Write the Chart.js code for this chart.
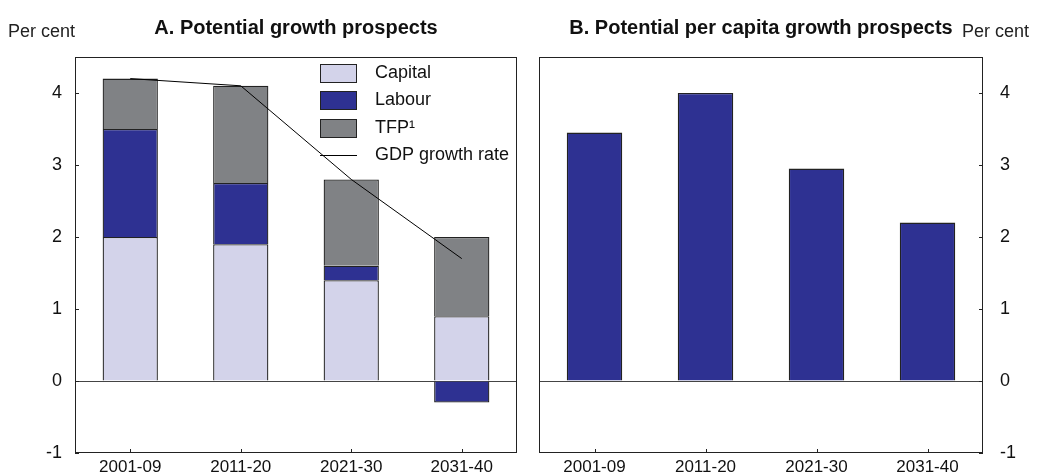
<!DOCTYPE html>
<html>
<head>
<meta charset="utf-8">
<script src="https://cdn.jsdelivr.net/npm/chart.js@4.4.0/dist/chart.umd.min.js"></script>
<style>
body { margin: 0; background: #fff; width: 1043px; height: 475px; overflow: hidden; position: relative; }
#chartA { position: absolute; left: 0; top: 0; }
#chartB { position: absolute; left: 528px; top: 0; }
</style>
</head>
<body>
<canvas id="chartA" width="528" height="475"></canvas>
<canvas id="chartB" width="515" height="475"></canvas>
<script>
// data
const periods = ['2001-09', '2011-20', '2021-30', '2031-40'];
const capital = [2.0, 1.9, 1.4, 0.9];
const labour = [1.5, 0.85, 0.2, -0.3];
const tfp = [0.7, 1.35, 1.2, 1.1];
const gdpGrowth = [4.2, 4.1, 2.8, 1.7];
const perCapita = [3.45, 4.0, 2.95, 2.2];
const yTicks = [-1, 0, 1, 2, 3, 4];
const yMin = -1, yMax = 4.5;

const FONT = "'Liberation Sans', Arial, sans-serif";
const colCapital = '#d3d3ea';
const colLabour = '#2e3192';
const colTfp = '#808285';
const edge = '#222222';

// frame round the plot area, inward ticks and the unit text
const framePlugin = {
    id: 'frame',
    afterDatasetsDraw(chart, args, opts) {
        const { ctx, chartArea: a, scales } = chart;
        ctx.save();
        ctx.strokeStyle = edge;
        ctx.lineWidth = 1;
        ctx.strokeRect(a.left + 0.5, a.top + 0.5, a.right - a.left - 1, a.bottom - a.top - 1);
        ctx.beginPath();
        yTicks.forEach(v => {
            const y = Math.round(scales.y.getPixelForValue(v)) + 0.5;
            if (opts.side == 'left') {
                ctx.moveTo(a.left, y); ctx.lineTo(a.left + 4, y);
            } else {
                ctx.moveTo(a.right, y); ctx.lineTo(a.right - 4, y);
            }
        });
        periods.forEach((p, i) => {
            const x = Math.round(scales.x.getPixelForValue(i)) + 0.5;
            ctx.moveTo(x, a.bottom); ctx.lineTo(x, a.bottom - 4);
        });
        ctx.stroke();
        ctx.fillStyle = '#222';
        ctx.font = '18px ' + FONT;
        ctx.textBaseline = 'middle';
        ctx.textAlign = 'left';
        ctx.fillText('Per cent', opts.unitX, 32);
        ctx.restore();
    }
};

// legend drawn inside panel A
const legendPlugin = {
    id: 'boxLegend',
    afterDatasetsDraw(chart, args, opts) {
        if (!opts.show) return;
        const { ctx, chartArea: a } = chart;
        const x0 = a.right - 197;
        ctx.save();
        ctx.font = '18px ' + FONT;
        ctx.textBaseline = 'middle';
        ctx.textAlign = 'left';
        const items = [chart.data.datasets[1], chart.data.datasets[2], chart.data.datasets[3], chart.data.datasets[0]];
        items.forEach((ds, i) => {
            const y = a.top + 16 + i * 27.3;
            ctx.strokeStyle = edge;
            ctx.lineWidth = 1;
            if (ds.type == 'line') {
                ctx.beginPath();
                ctx.moveTo(x0, Math.round(y) + 0.5);
                ctx.lineTo(x0 + 37, Math.round(y) + 0.5);
                ctx.strokeStyle = '#000';
                ctx.stroke();
            } else {
                ctx.fillStyle = ds.backgroundColor;
                ctx.fillRect(x0, Math.round(y - 9), 37, 19);
                ctx.strokeRect(x0 + 0.5, Math.round(y - 9) + 0.5, 36, 18);
            }
            ctx.fillStyle = '#111';
            ctx.fillText(ds.label, x0 + 55, y);
        });
        ctx.restore();
    }
};

const yScale = (pos, width, pad) => ({
    position: pos,
    min: yMin,
    max: yMax,
    stacked: true,
    afterBuildTicks: (s) => { s.ticks = yTicks.map(v => ({ value: v })); },
    afterFit: (s) => {
        s.width = width;
        // keep the label padding from pushing the plot area up
        s.paddingTop = 0;
        s.paddingBottom = 0;
    },
    ticks: { padding: pad, color: '#111', font: { family: FONT, size: 18 } },
    grid: {
        drawTicks: false,
        lineWidth: 1,
        color: (c) => (c.tick && c.tick.value === 0 ? '#444' : 'rgba(0,0,0,0)')
    },
    border: { display: false }
});

const xScale = (h) => ({
    stacked: true,
    afterFit: (s) => { s.height = h; },
    ticks: { padding: 4, maxRotation: 0, autoSkip: false, color: '#111', font: { family: FONT, size: 17 } },
    grid: { display: false, drawTicks: false },
    border: { display: false }
});

const titleOpts = (text) => ({
    display: true,
    text: text,
    fullSize: false,
    color: '#111',
    font: { family: FONT, size: 20, weight: 'bold' },
    padding: { top: 16, bottom: 17 }
});

let chartA = new Chart(document.getElementById('chartA').getContext('2d'), {
    type: 'bar',
    data: {
        labels: periods,
        datasets: [
            { type: 'line', label: 'GDP growth rate', data: gdpGrowth, borderColor: '#000', borderWidth: 1, pointRadius: 0, fill: false, order: 0, stack: 'gdp' },
            { label: 'Capital', data: capital, backgroundColor: colCapital, borderColor: edge, borderWidth: 1.3, order: 1, stack: 's' },
            { label: 'Labour', data: labour, backgroundColor: colLabour, borderColor: edge, borderWidth: 1.3, order: 1, stack: 's' },
            { label: 'TFP¹', data: tfp, backgroundColor: colTfp, borderColor: edge, borderWidth: 1.3, order: 1, stack: 's' }
        ]
    },
    options: {
        responsive: false,
        devicePixelRatio: 1,
        animation: false,
        layout: { padding: { left: 0, right: 11, top: 0, bottom: 0 } },
        datasets: { bar: { barPercentage: 0.5, categoryPercentage: 1 } },
        scales: { x: xScale(22), y: yScale('left', 75, 13) },
        plugins: {
            legend: { display: false },
            tooltip: { enabled: false },
            title: titleOpts('A. Potential growth prospects'),
            frame: { side: 'left', unitX: 8 },
            boxLegend: { show: true }
        }
    },
    plugins: [framePlugin, legendPlugin]
});

let chartB = new Chart(document.getElementById('chartB').getContext('2d'), {
    type: 'bar',
    data: {
        labels: periods,
        datasets: [
            { label: 'Potential per capita growth', data: perCapita, backgroundColor: colLabour, borderColor: edge, borderWidth: 1.3 }
        ]
    },
    options: {
        responsive: false,
        devicePixelRatio: 1,
        animation: false,
        layout: { padding: { left: 11, right: 0, top: 0, bottom: 0 } },
        datasets: { bar: { barPercentage: 0.5, categoryPercentage: 1 } },
        scales: { x: xScale(22), y: yScale('right', 60, 17) },
        plugins: {
            legend: { display: false },
            tooltip: { enabled: false },
            title: titleOpts('B. Potential per capita growth prospects'),
            frame: { side: 'right', unitX: 434 },
            boxLegend: { show: false }
        }
    },
    plugins: [framePlugin, legendPlugin]
});
</script>
</body>
</html>
